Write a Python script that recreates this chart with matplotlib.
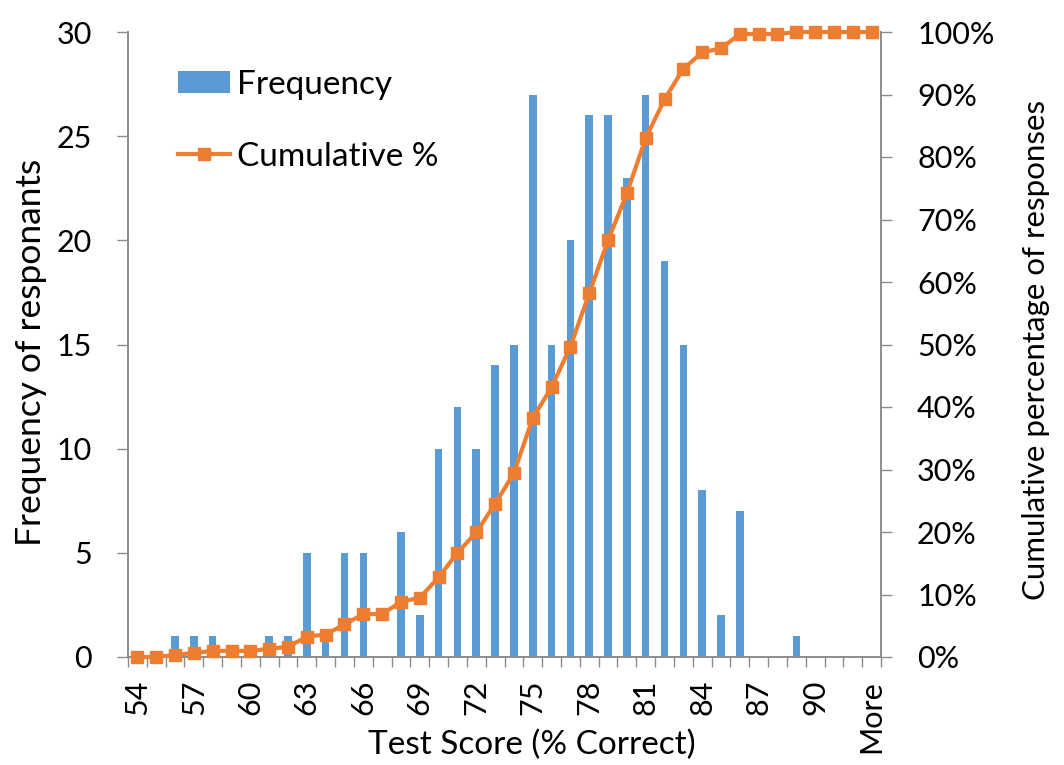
import matplotlib
matplotlib.use("Agg")
import matplotlib.pyplot as plt
import numpy as np
from matplotlib.ticker import PercentFormatter, MultipleLocator

plt.rcParams['font.family'] = ['Lato', 'DejaVu Sans']

# Histogram bins (test score, % correct) and respondent counts
bins = [str(s) for s in range(54, 93)] + ["More"]
frequency = [0, 0, 1, 1, 1, 0, 0, 1, 1, 5,
             1, 5, 5, 0, 6, 2, 10, 12, 10, 14,
             15, 27, 15, 20, 26, 26, 23, 27, 19, 15,
             8, 2, 7, 0, 0, 1, 0, 0, 0, 0]
labelled_bins = bins[::3]

freq = np.array(frequency, dtype=float)
cumulative_pct = np.cumsum(freq) / freq.sum() * 100

BLUE = "#5B9BD5"
ORANGE = "#ED7D31"
GRAY = "#8C8C8C"
TICK_FS = 22
LABEL_FS = 24

W, H = 1064, 765
fig = plt.figure(figsize=(W / 100, H / 100), dpi=100)
left, right, top, bottom = 128, 881, 32, 657
ax = fig.add_axes([left / W, (H - bottom) / H, (right - left) / W, (bottom - top) / H])
ax2 = ax.twinx()

x = np.arange(len(bins))
ax.bar(x, freq, width=0.4, color=BLUE, label="Frequency", zorder=2)
ax2.plot(x, cumulative_pct, color=ORANGE, lw=3, marker="s", markersize=8.5,
         label="Cumulative %", zorder=3, clip_on=False)

ax.set_xlim(-0.5, len(bins) - 0.5)
ax.set_ylim(0, 30)
ax2.set_ylim(0, 100)
ax.yaxis.set_major_locator(MultipleLocator(5))
ax2.yaxis.set_major_locator(MultipleLocator(10))
ax2.yaxis.set_major_formatter(PercentFormatter(decimals=0))

# category boundary ticks on the x axis, labels on every third bin
ax.set_xticks(np.arange(len(bins) + 1) - 0.5)
ax.set_xticklabels([])
ax.set_xticks(x[::3], minor=True)
ax.set_xticklabels(labelled_bins, minor=True, rotation=90, fontsize=TICK_FS)
ax.tick_params(axis="x", which="major", length=7, width=1, color=GRAY, direction="out")
ax.tick_params(axis="x", which="minor", length=0, pad=16.5)

ax.tick_params(axis="y", length=8, width=1, color=GRAY, labelsize=TICK_FS, pad=18)
ax2.tick_params(axis="y", length=8, width=1, color=GRAY, labelsize=TICK_FS, pad=18)

for a in (ax, ax2):
    a.spines["top"].set_visible(False)
    for s in ("left", "right", "bottom"):
        a.spines[s].set_color(GRAY)
        a.spines[s].set_linewidth(1.2)

ax.set_ylabel("Frequency of responants", fontsize=25.5)
ax2.set_ylabel("Cumulative percentage of responses", fontsize=22.5)
ax.set_xlabel("Test Score (% Correct)", fontsize=LABEL_FS)
ax.yaxis.set_label_coords(31 / W, (H - 352) / H, transform=fig.transFigure)
ax2.yaxis.set_label_coords(1036 / W, (H - 350) / H, transform=fig.transFigure)
ax.xaxis.set_label_coords(0.5, (H - 745) / H, transform=fig.transFigure)
ax.yaxis.label.set_va("center")
ax2.yaxis.label.set_va("center")
ax.xaxis.label.set_va("center")

h1, l1 = ax.get_legend_handles_labels()
h2, l2 = ax2.get_legend_handles_labels()
leg = ax2.legend(h1 + h2, l1 + l2, loc="upper left",
                 bbox_to_anchor=((178 - left) / (right - left), 1 - (70 - top) / (bottom - top)),
                 frameon=False, fontsize=LABEL_FS, handlelength=1.56, handleheight=0.63,
                 handletextpad=0.22, labelspacing=1.25, borderaxespad=0, borderpad=0)

fig.savefig("out.png", dpi=100)
